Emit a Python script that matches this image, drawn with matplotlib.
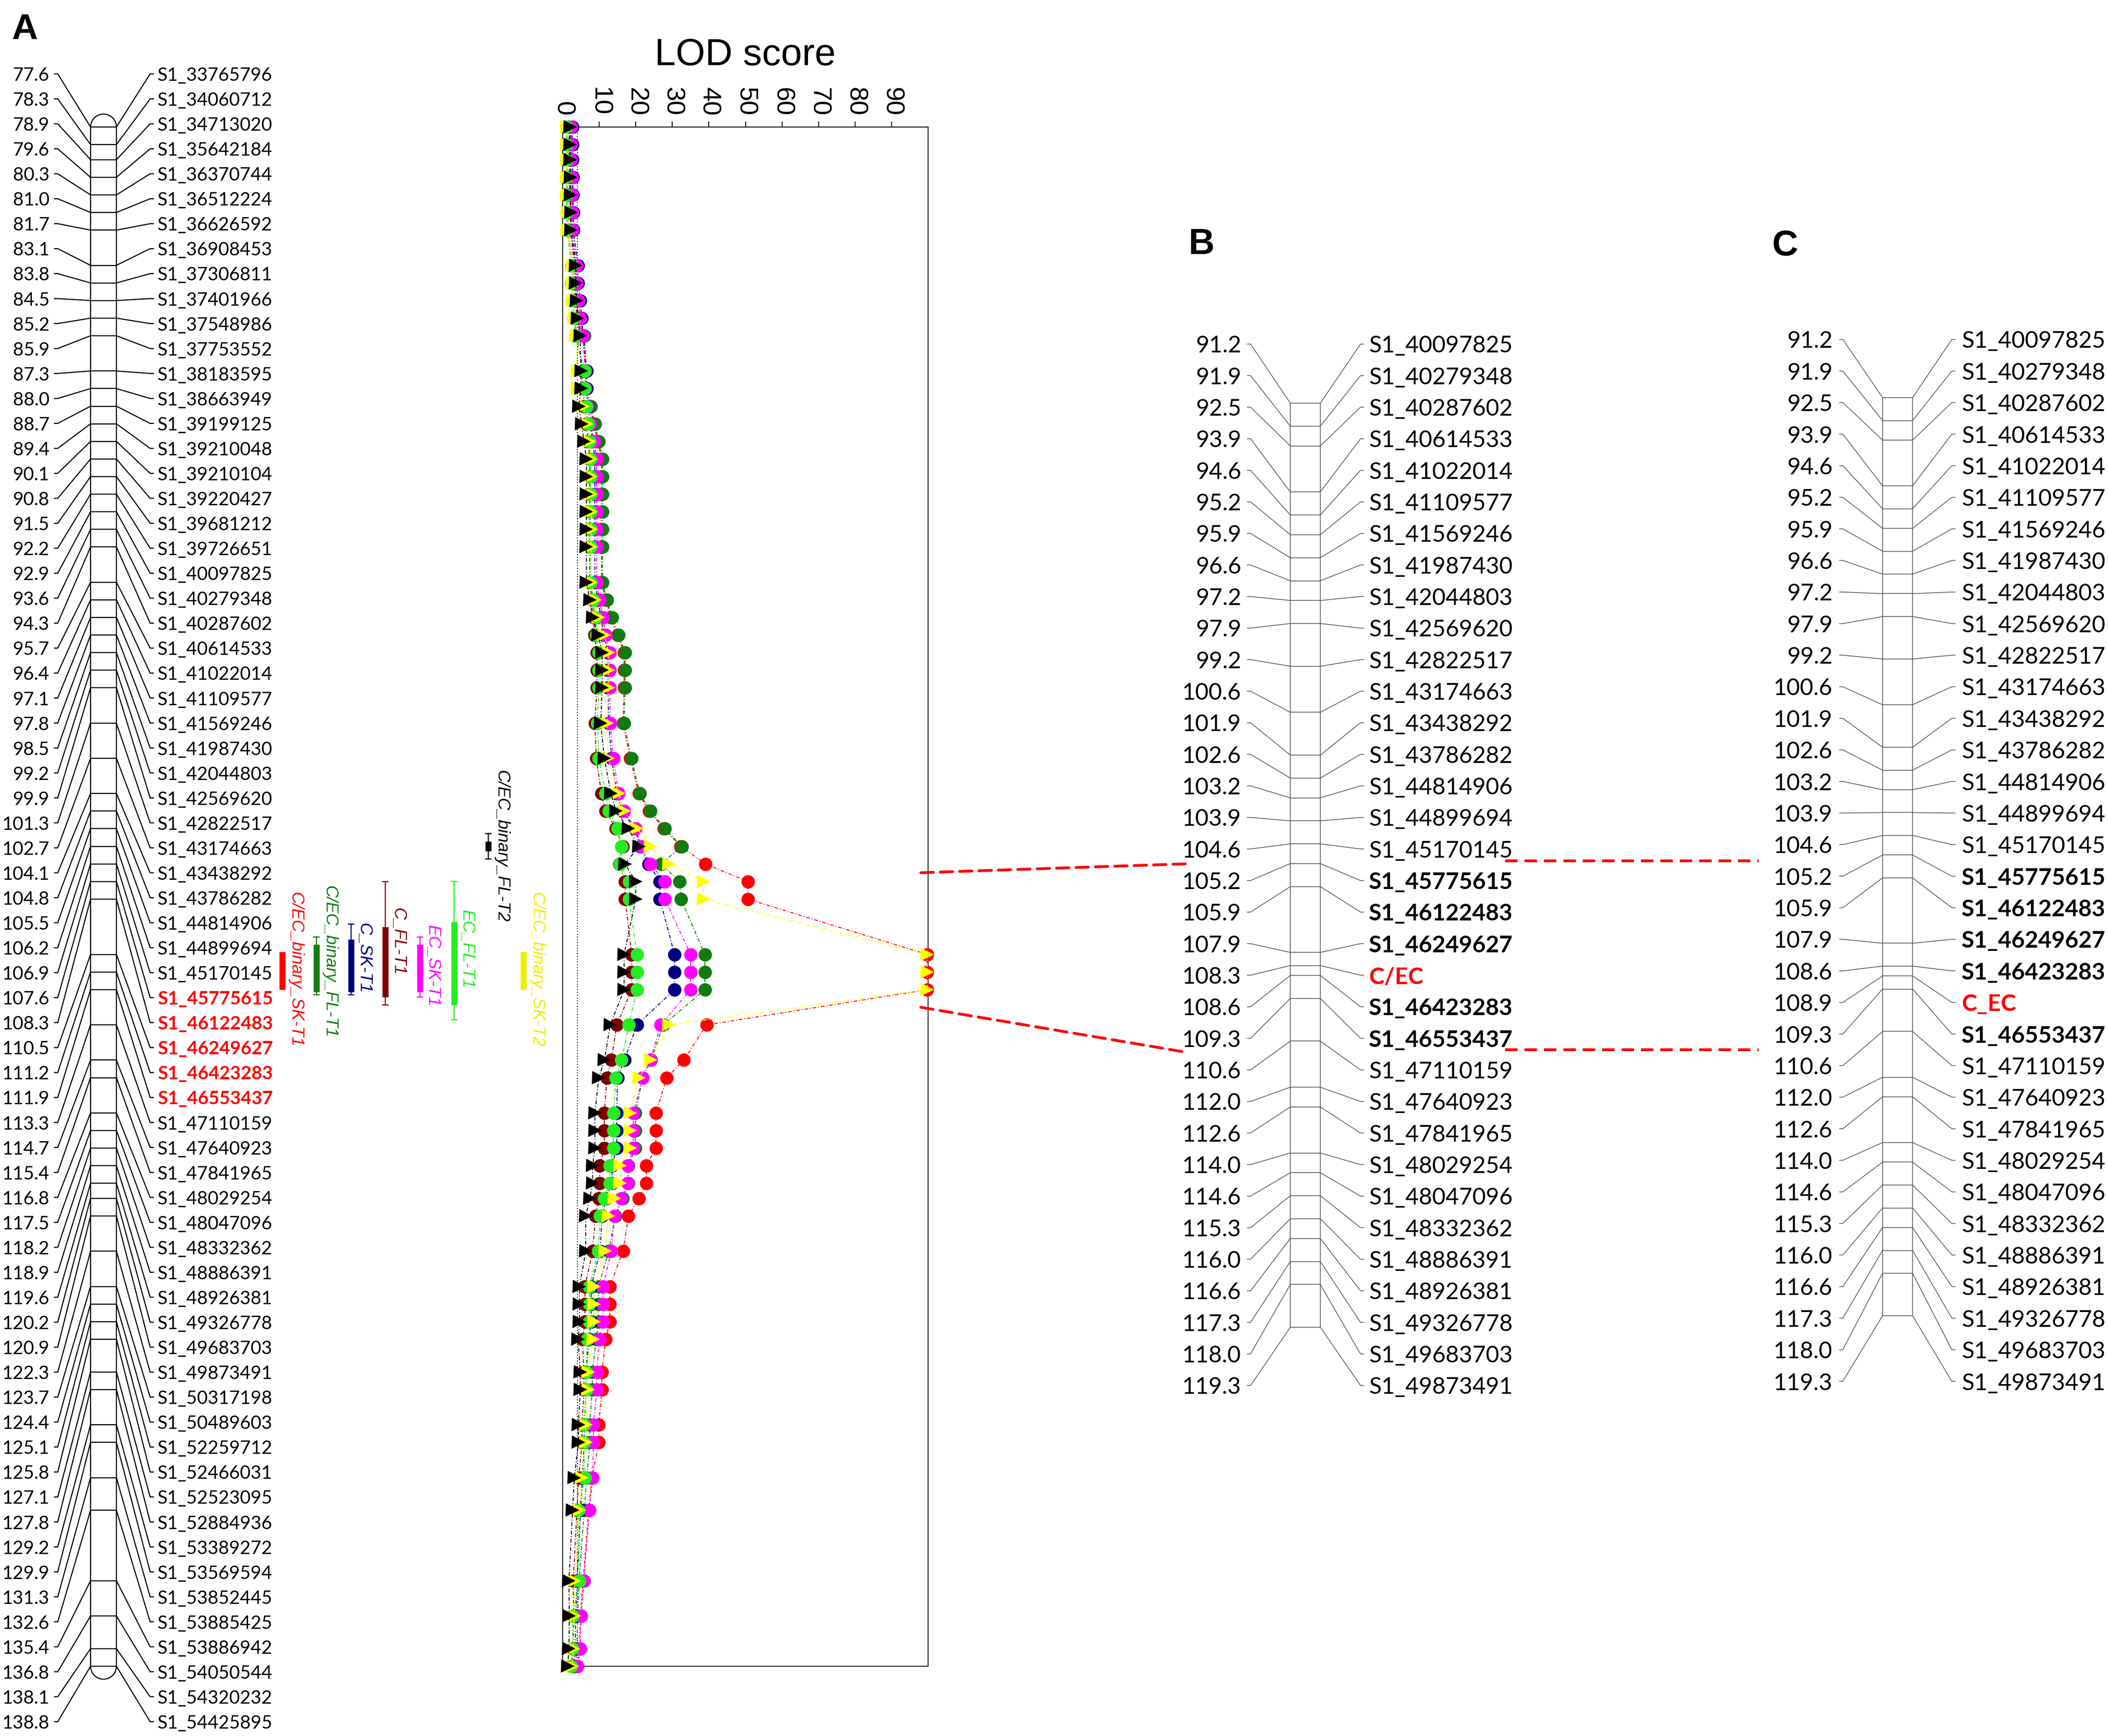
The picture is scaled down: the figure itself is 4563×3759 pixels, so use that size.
import numpy as np
import matplotlib
matplotlib.use("Agg")
import matplotlib.pyplot as plt
from matplotlib.patches import Arc, ConnectionPatch

W, H, DPI = 4563, 3759, 100
PT = 72 / DPI          # points per pixel

## DADOS ##

# panel A: linkage group (cM) and SNP markers
cm_a = [77.6, 78.3, 78.9, 79.6, 80.3, 81.0, 81.7, 83.1, 83.8, 84.5,
        85.2, 85.9, 87.3, 88.0, 88.7, 89.4, 90.1, 90.8, 91.5, 92.2,
        92.9, 93.6, 94.3, 95.7, 96.4, 97.1, 97.8, 98.5, 99.2, 99.9,
        101.3, 102.7, 104.1, 104.8, 105.5, 106.2, 106.9, 107.6, 108.3, 110.5,
        111.2, 111.9, 113.3, 114.7, 115.4, 116.8, 117.5, 118.2, 118.9, 119.6,
        120.2, 120.9, 122.3, 123.7, 124.4, 125.1, 125.8, 127.1, 127.8, 129.2,
        129.9, 131.3, 132.6, 135.4, 136.8, 138.1, 138.8]
mk_a = ["S1_33765796", "S1_34060712", "S1_34713020", "S1_35642184", "S1_36370744",
        "S1_36512224", "S1_36626592", "S1_36908453", "S1_37306811", "S1_37401966",
        "S1_37548986", "S1_37753552", "S1_38183595", "S1_38663949", "S1_39199125",
        "S1_39210048", "S1_39210104", "S1_39220427", "S1_39681212", "S1_39726651",
        "S1_40097825", "S1_40279348", "S1_40287602", "S1_40614533", "S1_41022014",
        "S1_41109577", "S1_41569246", "S1_41987430", "S1_42044803", "S1_42569620",
        "S1_42822517", "S1_43174663", "S1_43438292", "S1_43786282", "S1_44814906",
        "S1_44899694", "S1_45170145", "S1_45775615", "S1_46122483", "S1_46249627",
        "S1_46423283", "S1_46553437", "S1_47110159", "S1_47640923", "S1_47841965",
        "S1_48029254", "S1_48047096", "S1_48332362", "S1_48886391", "S1_48926381",
        "S1_49326778", "S1_49683703", "S1_49873491", "S1_50317198", "S1_50489603",
        "S1_52259712", "S1_52466031", "S1_52523095", "S1_52884936", "S1_53389272",
        "S1_53569594", "S1_53852445", "S1_53885425", "S1_53886942", "S1_54050544",
        "S1_54320232", "S1_54425895"]
destaque = ["S1_45775615", "S1_46122483", "S1_46249627", "S1_46423283", "S1_46553437"]

# LOD scores per marker (same order as cm_a)
lod_cec_bin_sk_t1 = [1.8, 1.8, 1.8, 1.9, 1.9, 2.1, 2.1,
                     3.2, 3.2, 3.4, 4.0, 5.5,
                     6.2, 6.2, 7.4, 8.5, 9.6,
                     10.6, 10.6, 10.6, 10.6, 10.6, 10.6, 10.6,
                     11.8, 13.2, 15.0, 16.8, 16.8, 16.8, 16.5, 18.5, 20.8, 23.7, 27.7, 32.3,
                     39.1, 50.7, 50.7, 99.8, 99.8, 99.8, 39.4, 33.1, 28.5,
                     25.5, 25.5, 25.5, 22.9, 22.9, 20.8, 18.0, 16.5, 12.9, 12.9, 12.9, 11.8,
                     10.7, 10.7, 9.9, 9.9, 8.0, 7.1, 5.6, 4.8, 4.6, 3.9]
lod_cec_bin_fl_t1 = [2.0, 2.0, 2.0, 2.1, 2.1, 2.3, 2.3,
                     3.4, 3.4, 3.6, 4.6, 6.0,
                     6.4, 6.4, 7.7, 8.8, 9.9,
                     10.9, 10.9, 10.9, 10.9, 10.9, 10.9, 10.9,
                     12.1, 13.5, 15.3, 17.1, 17.1, 17.1, 16.8, 18.8, 21.1, 24.0, 28.0, 32.6,
                     26.9, 32.0, 32.4, 38.9, 38.9, 38.9, 27.5, 24.2, 21.9,
                     19.9, 19.9, 19.9, 18.0, 18.0, 16.4, 14.4, 12.6, 9.8, 9.8, 9.8, 9.2,
                     8.1, 8.1, 7.4, 7.4, 6.6, 5.9, 4.5, 4.1, 3.9, 3.4]
lod_c_sk_t1 = [2.6, 2.6, 2.6, 2.8, 2.8, 2.9, 2.9,
               4.2, 4.2, 4.8, 5.2, 5.6,
               6.6, 6.6, 7.0, 7.6, 8.2,
               8.8, 8.8, 8.8, 8.8, 8.8, 8.8, 8.8,
               9.6, 10.5, 11.3, 12.4, 12.4, 12.4, 12.6, 13.4, 14.8, 16.3, 19.8, 21.2,
               23.5, 26.6, 26.6, 30.6, 30.6, 30.6, 20.3, 16.9, 15.0,
               14.8, 14.8, 14.8, 13.5, 13.5, 11.9, 10.8, 10.2, 7.8, 7.8, 7.8, 7.2,
               6.4, 6.4, 5.9, 5.9, 5.4, 4.9, 3.9, 3.6, 3.4, 3.0]
lod_c_fl_t1 = [1.3, 1.3, 1.3, 1.3, 1.3, 1.4, 1.4,
               2.7, 2.7, 2.8, 3.2, 3.8,
               5.5, 5.5, 6.0, 6.5, 7.0,
               7.4, 7.4, 7.4, 7.4, 7.4, 7.4, 7.4,
               8.0, 8.5, 8.7, 9.4, 9.4, 9.4, 8.8, 9.2, 10.6, 11.7, 14.6, 16.4,
               15.5, 17.1, 17.1, 18.9, 18.9, 18.9, 14.8, 13.3, 12.1,
               11.4, 11.4, 11.4, 10.1, 10.1, 9.9, 9.0, 8.2, 6.1, 6.1, 6.1, 5.4,
               5.8, 5.8, 5.3, 5.3, 4.4, 3.9, 2.9, 3.0, 2.9, 2.6]
lod_ec_sk_t1 = [2.3, 2.3, 2.3, 2.5, 2.5, 2.7, 2.7,
                3.8, 3.8, 4.3, 4.8, 5.5,
                6.2, 6.2, 6.8, 7.6, 8.6,
                9.3, 9.3, 9.3, 9.3, 9.3, 9.3, 9.3,
                10.1, 11.0, 11.8, 12.9, 12.9, 12.9, 13.0, 13.9, 15.3, 16.8, 20.0, 21.5,
                24.0, 28.0, 28.0, 35.0, 35.0, 35.0, 26.8, 24.0, 21.9,
                19.3, 19.3, 19.3, 17.8, 17.8, 16.1, 14.2, 13.3, 11.0, 11.0, 11.0, 10.1,
                9.3, 9.3, 8.4, 8.4, 8.2, 7.3, 5.8, 5.0, 4.8, 4.1]
lod_ec_fl_t1 = [1.0, 1.0, 1.0, 1.0, 1.0, 1.1, 1.1,
                2.4, 2.4, 2.6, 3.0, 3.5,
                6.0, 6.0, 6.5, 6.9, 7.3,
                7.6, 7.6, 7.6, 7.6, 7.6, 7.6, 7.6,
                8.4, 9.0, 9.2, 9.9, 9.9, 9.9, 9.5, 9.9, 11.7, 12.6, 15.0, 16.1,
                15.7, 18.2, 18.2, 20.3, 20.3, 20.3, 18.1, 16.1, 14.6,
                13.9, 13.9, 13.9, 12.9, 12.9, 11.4, 10.3, 9.7, 7.3, 7.3, 7.3, 6.7,
                6.4, 6.4, 5.8, 5.8, 6.1, 4.3, 4.5, 2.8, 2.6, 2.3]
lod_cec_bin_sk_t2 = [1.2, 1.2, 1.2, 1.2, 1.2, 1.3, 1.3,
                     2.6, 2.6, 2.8, 3.2, 3.5,
                     4.0, 4.0, 5.6, 6.6, 7.3,
                     7.8, 7.8, 7.8, 7.8, 7.8, 7.8, 7.8,
                     8.8, 9.7, 11.4, 12.5, 12.5, 12.5, 12.1, 12.4, 15.3, 16.8, 20.4, 24.0,
                     29.1, 38.5, 38.5, 99.8, 99.8, 99.8, 29.1, 24.0, 20.8,
                     18.4, 18.4, 18.4, 15.7, 15.7, 14.2, 12.5, 11.6, 8.6, 8.6, 8.6, 8.4,
                     6.9, 6.9, 6.3, 6.3, 5.2, 4.6, 3.3, 3.1, 2.9, 2.6]
lod_cec_bin_fl_t2 = [2.0, 2.0, 2.0, 2.1, 2.1, 2.3, 2.3,
                     3.6, 3.6, 3.8, 4.1, 4.8,
                     5.0, 5.0, 4.4, 5.2, 5.8,
                     6.5, 6.5, 6.5, 6.5, 6.5, 6.5, 6.5,
                     7.4, 8.2, 9.7, 10.8, 10.8, 10.8, 10.4, 11.4, 13.2, 14.6, 17.9, 20.8,
                     17.1, 20.0, 20.0, 16.8, 16.8, 16.8, 13.0, 11.4, 9.9,
                     8.8, 8.8, 8.8, 8.2, 8.2, 7.4, 6.3, 6.3, 4.6, 4.6, 4.6, 4.2,
                     4.8, 4.8, 4.3, 4.3, 3.2, 2.7, 1.7, 1.8, 1.7, 1.4]
lod_limiar = 4.0

# QTL intervals (cM): thick bar and whiskers
qtl_nomes = ["C/EC_binary_SK-T1", "C/EC_binary_FL-T1", "C_SK-T1", "C_FL-T1",
             "EC_SK-T1", "EC_FL-T1", "C/EC_binary_FL-T2", "C/EC_binary_SK-T2"]
qtl_lo = [110.4, 110.1, 109.9, 109.4, 110.1, 109.2, 106.0, 110.4]
qtl_hi = [111.9, 112.0, 112.0, 112.2, 112.0, 112.5, 106.4, 111.9]
qtl_wlo = [None, 109.8, 109.3, 107.6, 109.8, 107.6, 105.7, None]
qtl_whi = [None, 112.1, 112.1, 112.5, 112.2, 113.1, 106.7, None]

# panels B and C
cm_b = [91.2, 91.9, 92.5, 93.9, 94.6, 95.2, 95.9, 96.6, 97.2, 97.9,
        99.2, 100.6, 101.9, 102.6, 103.2, 103.9, 104.6, 105.2, 105.9, 107.9,
        108.3, 108.6, 109.3, 110.6, 112.0, 112.6, 114.0, 114.6, 115.3, 116.0,
        116.6, 117.3, 118.0, 119.3]
mk_b = ["S1_40097825", "S1_40279348", "S1_40287602", "S1_40614533", "S1_41022014",
        "S1_41109577", "S1_41569246", "S1_41987430", "S1_42044803", "S1_42569620",
        "S1_42822517", "S1_43174663", "S1_43438292", "S1_43786282", "S1_44814906",
        "S1_44899694", "S1_45170145", "S1_45775615", "S1_46122483", "S1_46249627",
        "C/EC", "S1_46423283", "S1_46553437", "S1_47110159", "S1_47640923",
        "S1_47841965", "S1_48029254", "S1_48047096", "S1_48332362", "S1_48886391",
        "S1_48926381", "S1_49326778", "S1_49683703", "S1_49873491"]
cm_c = [91.2, 91.9, 92.5, 93.9, 94.6, 95.2, 95.9, 96.6, 97.2, 97.9,
        99.2, 100.6, 101.9, 102.6, 103.2, 103.9, 104.6, 105.2, 105.9, 107.9,
        108.6, 108.9, 109.3, 110.6, 112.0, 112.6, 114.0, 114.6, 115.3, 116.0,
        116.6, 117.3, 118.0, 119.3]
mk_c = ["S1_40097825", "S1_40279348", "S1_40287602", "S1_40614533", "S1_41022014",
        "S1_41109577", "S1_41569246", "S1_41987430", "S1_42044803", "S1_42569620",
        "S1_42822517", "S1_43174663", "S1_43438292", "S1_43786282", "S1_44814906",
        "S1_44899694", "S1_45170145", "S1_45775615", "S1_46122483", "S1_46249627",
        "S1_46423283", "C_EC", "S1_46553437", "S1_47110159", "S1_47640923",
        "S1_47841965", "S1_48029254", "S1_48047096", "S1_48332362", "S1_48886391",
        "S1_48926381", "S1_49326778", "S1_49683703", "S1_49873491"]
qtl_locus = ["C/EC", "C_EC"]

## FIGURA ##

fig = plt.figure(figsize=(W / DPI, H / DPI), dpi=DPI)


def px_axes(x0, y0, x1, y1):
    ax = fig.add_axes([x0 / W, 1 - y1 / H, (x1 - x0) / W, (y1 - y0) / H])
    return ax


def desenha_mapa(ax, cms, nomes, rows_cm, xl, xr, lab_l, lab_r, fan_l, fan_r,
                 fs, cor, lw, bold_cor):
    ax.plot([xl, xl], [cms[0], cms[-1]], color=cor, lw=lw, solid_capstyle='butt', clip_on=False)
    ax.plot([xr, xr], [cms[0], cms[-1]], color=cor, lw=lw, solid_capstyle='butt', clip_on=False)
    ax.hlines(cms, xl, xr, color=cor, lw=lw, clip_on=False)
    for cm, y, nome in zip(cms, rows_cm, nomes):
        ax.plot([fan_l, fan_l + 7, xl], [y, y, cm], color=cor, lw=lw, clip_on=False)
        ax.plot([xr, fan_r - 7, fan_r], [cm, y, y], color=cor, lw=lw, clip_on=False)
        ax.text(lab_l, y, f"{cm:.1f}", ha='right', va='center_baseline',
                fontsize=fs, family='Lato', color='black')
        c, wgt = 'black', 'normal'
        if nome in destaque:
            c, wgt = bold_cor, 'bold'
        if nome in qtl_locus:
            c, wgt = 'red', 'bold'
        ax.text(lab_r, y, nome, ha='left', va='center_baseline',
                fontsize=fs, family='Lato', color=c, weight=wgt)


# --- painel A: mapa ---
A_TOP, A_BOT = 275, 3608
a_ppcm = (A_BOT - A_TOP) / (cm_a[-1] - cm_a[0])
axA = px_axes(0, A_TOP, 1200, A_BOT)
axA.set_xlim(0, 1200)
axA.set_ylim(cm_a[-1], cm_a[0])
axA.axis('off')
rows_a = cm_a[0] + (np.linspace(160, 3728, len(cm_a)) - A_TOP) / a_ppcm
desenha_mapa(axA, cm_a, mk_a, rows_a, 196, 252, 107, 341, 118, 332,
             40 * PT, 'black', 2.4 * PT, 'red')
cap_h = 56 / a_ppcm
axA.add_patch(Arc((224, cm_a[0]), 56, cap_h, theta1=180, theta2=360,
                  color='black', lw=2.4 * PT, clip_on=False))
axA.add_patch(Arc((224, cm_a[-1]), 56, cap_h, theta1=0, theta2=180,
                  color='black', lw=2.4 * PT, clip_on=False))

# QTL bars
qtl_cores = ['#FF0000', '#107C10', '#000080', '#800000',
             '#FF00FF', '#22EE22', '#000000', '#EEEE00']
qtl_x = [611, 685, 760, 834, 909, 983, 1057, 1133]
qtl_txt_cm = [111.1, 110.8, 110.65, 110.0, 110.95, 110.3, 106.2, 111.1]
for x, lo, hi, wlo, whi, cor, nome, ty in zip(qtl_x, qtl_lo, qtl_hi, qtl_wlo,
                                              qtl_whi, qtl_cores, qtl_nomes, qtl_txt_cm):
    if wlo is not None:
        axA.plot([x, x], [wlo, whi], color=cor, lw=2.5 * PT)
        axA.hlines([wlo, whi], x - 7, x + 7, color=cor, lw=2.5 * PT)
    axA.plot([x, x], [lo, hi], color=cor, lw=13 * PT, solid_capstyle='butt')
    axA.text(x + 28, ty, nome, rotation=-90, ha='center', va='center',
             color=cor, style='italic', fontsize=37 * PT, family='Liberation Sans')

# --- painel A: LOD ---
axL = px_axes(1218, A_TOP, 2009, A_BOT)
axL.set_xlim(0, 100)
axL.set_ylim(cm_a[-1], cm_a[0])
axL.xaxis.tick_top()
axL.set_xticks(np.arange(0, 100, 10))
axL.tick_params(axis='x', direction='out', length=12 * PT, width=2 * PT,
                pad=12 * PT, labelsize=56 * PT, labelrotation=-90)
for lab in axL.get_xticklabels():
    lab.set_family('Liberation Sans')
axL.set_yticks([])
for s in axL.spines.values():
    s.set_linewidth(2 * PT)
axL.axvline(lod_limiar, color='black', ls=(0, (1, 2)), lw=2 * PT, zorder=1)

series = [
    (lod_cec_bin_sk_t1, '#FF0000', 'o'),
    (lod_cec_bin_fl_t1, '#107C10', 'o'),
    (lod_c_sk_t1, '#000080', 'o'),
    (lod_c_fl_t1, '#800000', 'o'),
    (lod_ec_sk_t1, '#FF00FF', 'o'),
    (lod_ec_fl_t1, '#22EE22', 'o'),
    (lod_cec_bin_sk_t2, '#FFFF00', '>'),
    (lod_cec_bin_fl_t2, '#000000', '>'),
]
for z, (vals, cor, mk) in enumerate(series):
    axL.plot(vals, cm_a, color=cor, ls=(0, (4, 2, 1, 2)), lw=2 * PT,
             marker=mk, ms=29 * PT, mew=0, clip_on=False, zorder=3 + z)

fig.text(1613 / W, 1 - 141 / H, 'LOD score', ha='center', va='baseline',
         fontsize=82 * PT, family='Liberation Sans')

# --- painel B ---
B_TOP, B_BOT = 873, 2874
b_ppcm = (B_BOT - B_TOP) / (cm_b[-1] - cm_b[0])
axB = px_axes(2500, B_TOP, 3350, B_BOT)
axB.set_xlim(2500, 3350)
axB.set_ylim(cm_b[-1], cm_b[0])
axB.axis('off')
rows_b = cm_b[0] + (np.linspace(745, 3000, len(cm_b)) - B_TOP) / b_ppcm
desenha_mapa(axB, cm_b, mk_b, rows_b, 2793, 2858, 2687, 2963, 2700, 2952,
             50 * PT, '#555555', 1.6 * PT, 'black')

# --- painel C ---
C_TOP, C_BOT = 861, 2849
c_ppcm = (C_BOT - C_TOP) / (cm_c[-1] - cm_c[0])
axC = px_axes(3700, C_TOP, 4563, C_BOT)
axC.set_xlim(3700, 4563)
axC.set_ylim(cm_c[-1], cm_c[0])
axC.axis('off')
rows_c = cm_c[0] + (np.linspace(735, 2991, len(cm_c)) - C_TOP) / c_ppcm
desenha_mapa(axC, cm_c, mk_c, rows_c, 4075, 4140, 3967, 4246, 3982, 4232,
             50 * PT, '#555555', 1.6 * PT, 'black')

# --- linhas tracejadas de ligação ---
estilo = dict(color='red', lw=6 * PT, ls=(0, (4.5, 2.5)), zorder=20)
b_up = cm_b[0] + (1870 - B_TOP) / b_ppcm
b_dn = cm_b[0] + (2279 - B_TOP) / b_ppcm
lod_up = (cm_a[36] + cm_a[37]) / 2
lod_dn = (cm_a[41] + cm_a[42]) / 2
for ya, yb, xb in [(lod_up, b_up, 2580), (lod_dn, b_dn, 2571)]:
    con = ConnectionPatch(xyA=(98, ya), coordsA='data', axesA=axL,
                          xyB=(xb, yb), coordsB='data', axesB=axB, **estilo)
    fig.add_artist(con)
for ypx in [1864, 2273]:
    yc = cm_c[0] + (ypx - C_TOP) / c_ppcm
    axC.plot([3258, 3807], [yc, yc], clip_on=False, **estilo)

# rótulos dos painéis
for letra, x, y in [('A', 25, 85), ('B', 2573, 550), ('C', 3836, 553)]:
    fig.text(x / W, 1 - y / H, letra, ha='left', va='baseline',
             fontsize=78 * PT, weight='bold', family='Liberation Sans')

fig.savefig('out.png', dpi=DPI)
